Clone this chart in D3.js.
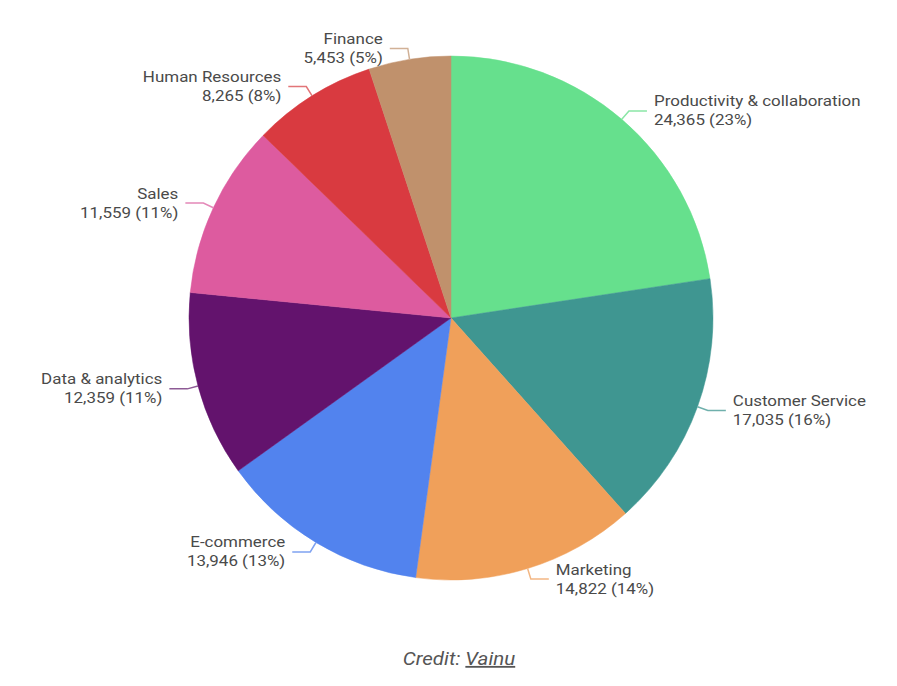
<!DOCTYPE html>
<html><head><meta charset="utf-8">
<script src="https://cdn.jsdelivr.net/npm/d3@7/dist/d3.min.js"></script>
<style>body{margin:0;background:#fff;}svg{display:block;}</style>
</head><body>
<svg id="chart" width="897" height="686"></svg>
<script>
const categories = ["Productivity & collaboration","Customer Service","Marketing","E-commerce","Data & analytics","Sales","Human Resources","Finance"];
const values = [24365,17035,14822,13946,12359,11559,8265,5453];
const percents = ["23%","16%","14%","13%","11%","11%","8%","5%"];
const colors = ["#66e08d","#3f9691","#f0a05a","#5283ee","#63136d","#dd5b9f","#d93a40","#c0916c"];
const lineColors = ["#8ae6a6","#6fb0ac","#f3b784","#7fa2f1","#8d5a95","#e488b8","#e27578","#d1b196"];

const svg = d3.select("#chart");
const cx = 451, cy = 318, R = 262;
const g = svg.append("g").attr("transform", `translate(${cx},${cy})`);
const data = categories.map((c,i)=>({name:c, value:values[i], pct:percents[i], color:colors[i], lc:lineColors[i]}));
const pie = d3.pie().value(d=>d.value).sort(null);
const arcs = pie(data);
const arc = d3.arc().innerRadius(0).outerRadius(R);
const edgeArc = d3.arc().innerRadius(R).outerRadius(R);
const outArc = d3.arc().innerRadius(R+11).outerRadius(R+11);

g.selectAll("path.slice").data(arcs).join("path")
  .attr("class","slice").attr("d", arc).attr("fill", d=>d.data.color)
  .attr("stroke", d=>d.data.color).attr("stroke-width", 0.5);

const fmt = d3.format(",");
const SX = 1.13;
arcs.forEach(a => {
  const mid = (a.startAngle + a.endAngle)/2;
  const right = Math.sin(mid) >= 0;
  const p1 = edgeArc.centroid(a), p2 = outArc.centroid(a);
  const p3 = [p2[0] + (right ? 18 : -18), p2[1]];
  g.append("polyline").attr("points", [p1,p2,p3].map(p=>p.join(",")).join(" "))
    .attr("fill","none").attr("stroke", a.data.lc).attr("stroke-width",1.5);
  const tx = p3[0] + (right ? 7 : -7);
  const lg = g.append("g").attr("transform", `translate(${tx},${p3[1]}) scale(${SX},1)`);
  const t = lg.append("text").attr("font-family","Roboto, sans-serif").attr("font-size",15)
    .attr("fill","#4a4a4a").attr("text-anchor", right ? "start" : "end");
  t.append("tspan").attr("x", 0).attr("y", -4.5).text(a.data.name);
  t.append("tspan").attr("x", 0).attr("y", 14.5).text(`${fmt(a.data.value)} (${a.data.pct})`);
});

const cg = svg.append("g").attr("transform", `translate(459,665) scale(1.14,1)`);
const credit = cg.append("text").attr("x", 0).attr("y", 0).attr("text-anchor","middle")
  .attr("font-family","Roboto, sans-serif").attr("font-size",18).attr("font-style","italic").attr("fill","#555");
credit.append("tspan").text("Credit: ");
credit.append("tspan").attr("text-decoration","underline").text("Vainu");
</script>
</body></html>
